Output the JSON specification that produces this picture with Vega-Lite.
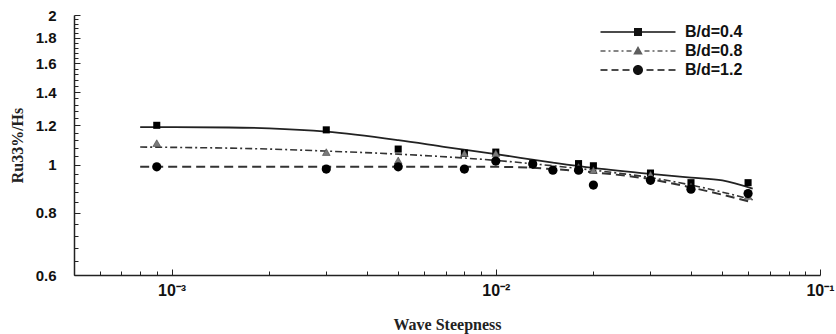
{
  "$schema": "https://vega.github.io/schema/vega-lite/v6.json",
  "autosize": "none",
  "width": 746,
  "height": 260,
  "padding": {"left": 74, "top": 15, "right": 16, "bottom": 59},
  "background": "white",
  "config": {"view": {"stroke": null}},
  "datasets": {
    "points": [
      {"steepness": 0.0009, "ratio": 1.20, "series": "B/d=0.4"},
      {"steepness": 0.003, "ratio": 1.175, "series": "B/d=0.4"},
      {"steepness": 0.005, "ratio": 1.075, "series": "B/d=0.4"},
      {"steepness": 0.008, "ratio": 1.055, "series": "B/d=0.4"},
      {"steepness": 0.01, "ratio": 1.06, "series": "B/d=0.4"},
      {"steepness": 0.013, "ratio": 1.005, "series": "B/d=0.4"},
      {"steepness": 0.018, "ratio": 1.005, "series": "B/d=0.4"},
      {"steepness": 0.02, "ratio": 0.995, "series": "B/d=0.4"},
      {"steepness": 0.03, "ratio": 0.962, "series": "B/d=0.4"},
      {"steepness": 0.04, "ratio": 0.92, "series": "B/d=0.4"},
      {"steepness": 0.06, "ratio": 0.92, "series": "B/d=0.4"},
      {"steepness": 0.0009, "ratio": 1.105, "series": "B/d=0.8"},
      {"steepness": 0.003, "ratio": 1.06, "series": "B/d=0.8"},
      {"steepness": 0.005, "ratio": 1.02, "series": "B/d=0.8"},
      {"steepness": 0.008, "ratio": 1.055, "series": "B/d=0.8"},
      {"steepness": 0.01, "ratio": 1.055, "series": "B/d=0.8"},
      {"steepness": 0.013, "ratio": 1.0, "series": "B/d=0.8"},
      {"steepness": 0.018, "ratio": 0.99, "series": "B/d=0.8"},
      {"steepness": 0.02, "ratio": 0.975, "series": "B/d=0.8"},
      {"steepness": 0.03, "ratio": 0.955, "series": "B/d=0.8"},
      {"steepness": 0.04, "ratio": 0.905, "series": "B/d=0.8"},
      {"steepness": 0.06, "ratio": 0.865, "series": "B/d=0.8"},
      {"steepness": 0.0009, "ratio": 0.99, "series": "B/d=1.2"},
      {"steepness": 0.003, "ratio": 0.98, "series": "B/d=1.2"},
      {"steepness": 0.005, "ratio": 0.99, "series": "B/d=1.2"},
      {"steepness": 0.008, "ratio": 0.98, "series": "B/d=1.2"},
      {"steepness": 0.01, "ratio": 1.017, "series": "B/d=1.2"},
      {"steepness": 0.013, "ratio": 1.003, "series": "B/d=1.2"},
      {"steepness": 0.015, "ratio": 0.975, "series": "B/d=1.2"},
      {"steepness": 0.018, "ratio": 0.975, "series": "B/d=1.2"},
      {"steepness": 0.02, "ratio": 0.91, "series": "B/d=1.2"},
      {"steepness": 0.03, "ratio": 0.93, "series": "B/d=1.2"},
      {"steepness": 0.04, "ratio": 0.893, "series": "B/d=1.2"},
      {"steepness": 0.06, "ratio": 0.875, "series": "B/d=1.2"}
    ],
    "curves": [
      {"steepness": 0.0008, "ratio": 1.19, "series": "B/d=0.4"},
      {"steepness": 0.0015, "ratio": 1.188, "series": "B/d=0.4"},
      {"steepness": 0.002, "ratio": 1.183, "series": "B/d=0.4"},
      {"steepness": 0.003, "ratio": 1.165, "series": "B/d=0.4"},
      {"steepness": 0.005, "ratio": 1.12, "series": "B/d=0.4"},
      {"steepness": 0.007, "ratio": 1.085, "series": "B/d=0.4"},
      {"steepness": 0.01, "ratio": 1.05, "series": "B/d=0.4"},
      {"steepness": 0.015, "ratio": 1.01, "series": "B/d=0.4"},
      {"steepness": 0.02, "ratio": 0.985, "series": "B/d=0.4"},
      {"steepness": 0.03, "ratio": 0.958, "series": "B/d=0.4"},
      {"steepness": 0.04, "ratio": 0.942, "series": "B/d=0.4"},
      {"steepness": 0.05, "ratio": 0.93, "series": "B/d=0.4"},
      {"steepness": 0.062, "ratio": 0.895, "series": "B/d=0.4"},
      {"steepness": 0.0008, "ratio": 1.085, "series": "B/d=0.8"},
      {"steepness": 0.002, "ratio": 1.075, "series": "B/d=0.8"},
      {"steepness": 0.003, "ratio": 1.065, "series": "B/d=0.8"},
      {"steepness": 0.005, "ratio": 1.05, "series": "B/d=0.8"},
      {"steepness": 0.01, "ratio": 1.02, "series": "B/d=0.8"},
      {"steepness": 0.015, "ratio": 0.995, "series": "B/d=0.8"},
      {"steepness": 0.02, "ratio": 0.975, "series": "B/d=0.8"},
      {"steepness": 0.03, "ratio": 0.942, "series": "B/d=0.8"},
      {"steepness": 0.04, "ratio": 0.91, "series": "B/d=0.8"},
      {"steepness": 0.062, "ratio": 0.85, "series": "B/d=0.8"},
      {"steepness": 0.0008, "ratio": 0.99, "series": "B/d=1.2"},
      {"steepness": 0.002, "ratio": 0.99, "series": "B/d=1.2"},
      {"steepness": 0.005, "ratio": 0.99, "series": "B/d=1.2"},
      {"steepness": 0.01, "ratio": 0.99, "series": "B/d=1.2"},
      {"steepness": 0.015, "ratio": 0.98, "series": "B/d=1.2"},
      {"steepness": 0.02, "ratio": 0.965, "series": "B/d=1.2"},
      {"steepness": 0.03, "ratio": 0.935, "series": "B/d=1.2"},
      {"steepness": 0.04, "ratio": 0.9, "series": "B/d=1.2"},
      {"steepness": 0.062, "ratio": 0.84, "series": "B/d=1.2"}
    ]
  },
  "encoding": {
    "x": {
      "field": "steepness", "type": "quantitative",
      "scale": {"type": "log", "domain": [0.0005, 0.1]},
      "axis": {
        "title": "Wave Steepness",
        "titleFont": "Liberation Serif", "titleFontSize": 16, "titleFontWeight": "bold", "titleColor": "#222",
        "titlePadding": 16,
        "values": [0.0005, 0.0006, 0.0007, 0.0008, 0.0009, 0.001, 0.002, 0.003, 0.004, 0.005, 0.006, 0.007, 0.008, 0.009, 0.01, 0.02, 0.03, 0.04, 0.05, 0.06, 0.07, 0.08, 0.09, 0.1],
        "labelExpr": "datum.value == 0.001 ? '10⁻³' : datum.value == 0.01 ? '10⁻²' : datum.value == 0.1 ? '10⁻¹' : ''",
        "labelFont": "Liberation Sans", "labelFontSize": 16, "labelFontWeight": "bold", "labelColor": "#111",
        "labelPadding": 13, "labelFlush": false, "labelOverlap": false,
        "grid": false,
        "domainColor": "#222", "domainWidth": 1.5,
        "tickColor": "#222", "tickWidth": 1,
        "tickSize": {"condition": {"test": "datum.value == 0.001 || datum.value == 0.01 || datum.value == 0.1", "value": -6}, "value": -4}
      }
    },
    "y": {
      "field": "ratio", "type": "quantitative",
      "scale": {"type": "log", "domain": [0.6, 2]},
      "axis": {
        "title": "Ru33%/Hs",
        "titleFont": "Liberation Serif", "titleFontSize": 16, "titleFontWeight": "bold", "titleColor": "#222",
        "titlePadding": 10,
        "values": [0.6, 0.64, 0.68, 0.72, 0.76, 0.8, 0.84, 0.88, 0.92, 0.96, 1, 1.04, 1.08, 1.12, 1.16, 1.2, 1.24, 1.28, 1.32, 1.36, 1.4, 1.44, 1.48, 1.52, 1.56, 1.6, 1.64, 1.68, 1.72, 1.76, 1.8, 1.84, 1.88, 1.92, 1.96, 2],
        "labelExpr": "abs(datum.value * 5 - round(datum.value * 5)) < 0.000001 ? format(datum.value, '.1~f') : ''",
        "labelFont": "Liberation Sans", "labelFontSize": 15, "labelFontWeight": "bold", "labelColor": "#111",
        "labelPadding": 24, "labelFlush": false, "labelOverlap": false,
        "grid": false,
        "domainColor": "#222", "domainWidth": 1.5,
        "tickColor": "#222", "tickWidth": 1,
        "tickSize": {"condition": {"test": "abs(datum.value * 5 - round(datum.value * 5)) < 0.000001", "value": -6}, "value": -4}
      }
    }
  },
  "layer": [
    {
      "data": {"name": "curves"},
      "transform": [{"filter": "datum.series == 'B/d=0.4'"}],
      "mark": {"type": "line", "interpolate": "monotone", "color": "#222", "strokeWidth": 1.8}
    },
    {
      "data": {"name": "curves"},
      "transform": [{"filter": "datum.series == 'B/d=0.8'"}],
      "mark": {"type": "line", "interpolate": "monotone", "color": "#333", "strokeWidth": 1.6, "strokeDash": [7, 3, 2, 3]}
    },
    {
      "data": {"name": "curves"},
      "transform": [{"filter": "datum.series == 'B/d=1.2'"}],
      "mark": {"type": "line", "interpolate": "monotone", "color": "#333", "strokeWidth": 2, "strokeDash": [9, 5]}
    },
    {
      "data": {"name": "points"},
      "transform": [{"filter": "datum.series == 'B/d=0.4'"}],
      "mark": {"type": "point", "shape": "square", "filled": true, "color": "#000", "size": 50, "opacity": 1}
    },
    {
      "data": {"name": "points"},
      "transform": [{"filter": "datum.series == 'B/d=0.8'"}],
      "mark": {"type": "point", "shape": "triangle-up", "filled": true, "fill": "#7a7a7a", "stroke": "#333", "strokeWidth": 0.5, "size": 60, "opacity": 1}
    },
    {
      "data": {"name": "points"},
      "transform": [{"filter": "datum.series == 'B/d=1.2'"}],
      "mark": {"type": "point", "shape": "circle", "filled": true, "color": "#000", "size": 85, "opacity": 1}
    },
    {
      "data": {"name": "points"},
      "transform": [{"filter": "datum.ratio > 5"}],
      "mark": {"type": "point", "filled": true, "opacity": 1},
      "encoding": {
        "shape": {
          "field": "series", "type": "nominal",
          "scale": {"domain": ["B/d=0.4", "B/d=0.8", "B/d=1.2"], "range": [
            "M-3.75,-0.08L3.75,-0.08L3.75,0.08L-3.75,0.08ZM-0.4,-0.4L0.4,-0.4L0.4,0.4L-0.4,0.4Z",
            "M-3.75,-0.08L-3.25,-0.08L-3.25,0.08L-3.75,0.08ZM-2.95,-0.08L-2.75,-0.08L-2.75,0.08L-2.95,0.08ZM-2.45,-0.08L-1.95,-0.08L-1.95,0.08L-2.45,0.08ZM-1.65,-0.08L-1.45,-0.08L-1.45,0.08L-1.65,0.08ZM-1.15,-0.08L-0.65,-0.08L-0.65,0.08L-1.15,0.08ZM0.65,-0.08L1.15,-0.08L1.15,0.08L0.65,0.08ZM1.45,-0.08L1.65,-0.08L1.65,0.08L1.45,0.08ZM1.95,-0.08L2.45,-0.08L2.45,0.08L1.95,0.08ZM2.75,-0.08L2.95,-0.08L2.95,0.08L2.75,0.08ZM3.25,-0.08L3.75,-0.08L3.75,0.08L3.25,0.08ZM0,-0.5L0.48,0.35L-0.48,0.35Z",
            "M-3.75,-0.08L-3.05,-0.08L-3.05,0.08L-3.75,0.08ZM-2.65,-0.08L-1.95,-0.08L-1.95,0.08L-2.65,0.08ZM-1.55,-0.08L-0.85,-0.08L-0.85,0.08L-1.55,0.08ZM0.85,-0.08L1.55,-0.08L1.55,0.08L0.85,0.08ZM1.95,-0.08L2.65,-0.08L2.65,0.08L1.95,0.08ZM3.05,-0.08L3.75,-0.08L3.75,0.08L3.05,0.08ZM0.5,0A0.5,0.5,0,1,1,-0.5,0A0.5,0.5,0,1,1,0.5,0Z"
          ]},
          "legend": {
            "title": null, "orient": "none", "legendX": 554, "legendY": 7,
            "symbolSize": 400, "symbolOpacity": 1, "symbolStrokeWidth": 0,
            "labelFont": "Liberation Sans", "labelFontSize": 16, "labelFontWeight": "bold", "labelColor": "#111",
            "labelOffset": 37, "rowPadding": 1, "padding": 0
          }
        },
        "fill": {
          "field": "series", "type": "nominal",
          "scale": {"domain": ["B/d=0.4", "B/d=0.8", "B/d=1.2"], "range": ["#111", "#5e5e5e", "#111"]}
        }
      }
    }
  ]
}
